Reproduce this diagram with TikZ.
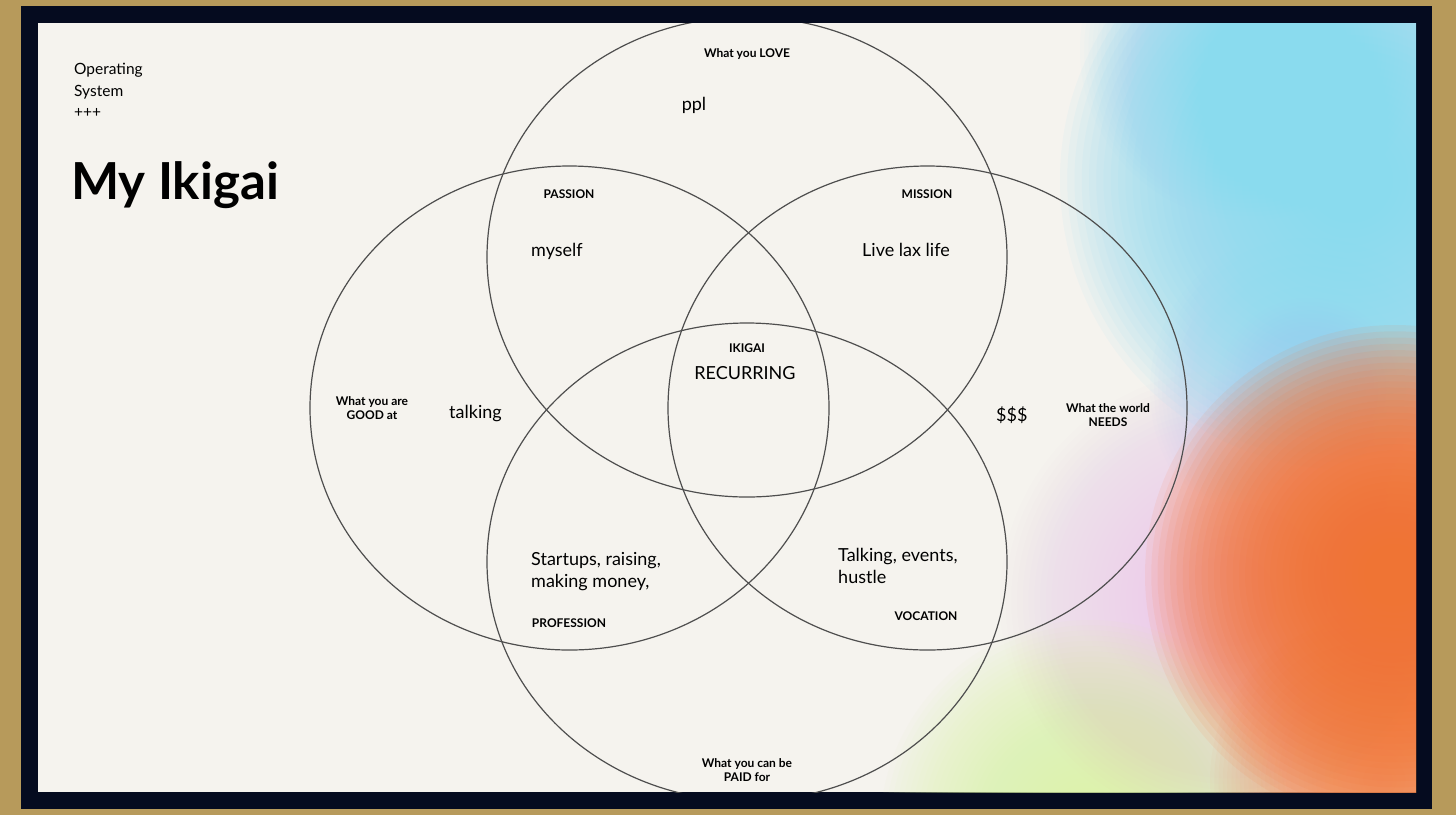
\documentclass[tikz,border=0pt]{standalone}
\usepackage{fontspec}
\setmainfont{Lato}
\definecolor{gold}{HTML}{B79A5B}
\definecolor{navy}{HTML}{050B1F}
\definecolor{cream}{HTML}{F5F3EE}
\definecolor{ringc}{HTML}{4E4E4E}
\definecolor{skyb}{HTML}{8ADBFA}
\definecolor{orng}{HTML}{FA7434}
\definecolor{pnk}{HTML}{EDC8EA}
\definecolor{lav}{HTML}{C9D2F2}
\definecolor{limec}{HTML}{DDF2A8}
\definecolor{peach}{HTML}{F1A06E}
\newcommand{\myblob}[5]{%
  \foreach \k in {1,...,40} {\fill[#1, opacity=#5] (#2,#3) circle ({#4*\k/40});}}
\begin{document}
\begin{tikzpicture}[x=1pt,y=-1pt,
  ringline/.style={draw=ringc, line width=1.2pt},
  lbl/.style={font=\bfseries\fontsize{12}{14}\selectfont, inner sep=0pt, anchor=base},
  txt/.style={font=\fontsize{18}{22}\selectfont, inner sep=0pt, anchor=base},
  txtw/.style={font=\fontsize{18}{22}\selectfont, inner sep=0pt, anchor=base west},
  smalltxt/.style={font=\fontsize{15.5}{20}\selectfont, inner sep=0pt, anchor=base west}]
\useasboundingbox (0,0) rectangle (1456,815);
\fill[gold] (0,0) rectangle (1456,815);
\fill[navy] (21,6) rectangle (1432,809);
\fill[cream] (38,23) rectangle (1416,792);
\begin{scope}
\clip (38,23) rectangle (1416,792);
\myblob{pnk}{1230}{600}{230}{0.045}
\myblob{lav}{1310}{390}{160}{0.05}
\myblob{limec}{1090}{830}{210}{0.05}
\myblob{skyb}{1350}{180}{290}{0.075}
\myblob{skyb}{1250}{50}{170}{0.03}
\myblob{peach}{1380}{780}{170}{0.05}
\myblob{orng}{1395}{575}{250}{0.09}
\draw[ringline] (747,257) ellipse [x radius=260, y radius=240];
\draw[ringline] (569.5,408) ellipse [x radius=259.5, y radius=242];
\draw[ringline] (927.5,408) ellipse [x radius=259.5, y radius=242];
\draw[ringline] (747,562) ellipse [x radius=260, y radius=239];
\end{scope}
\node[smalltxt] (os1) at (74,74) {Operating};
\node[smalltxt] (os2) at (74,96) {System};
\node[smalltxt] (os3) at (74,117) {+++};
\node[font=\bfseries\fontsize{51}{60}\selectfont, inner sep=0pt, anchor=base west] (title) at (71,199) {My Ikigai};
\node[lbl] (love) at (747,57) {What you LOVE};
\node[txt] (ppl) at (694,110) {ppl};
\node[lbl] (passion) at (569,198) {PASSION};
\node[lbl] (mission) at (927,198) {MISSION};
\node[txtw] (myself) at (531,256) {myself};
\node[txtw] (lax) at (862,256) {Live lax life};
\node[lbl] (ikigai) at (747,352) {IKIGAI};
\node[txt] (recur) at (745,379) {RECURRING};
\node[lbl] (good1) at (372,405) {What you are};
\node[lbl] (good2) at (372,419) {GOOD at};
\node[txtw] (talking) at (449,418) {talking};
\node[txtw] (money) at (996,421) {\$\$\$};
\node[lbl] (needs1) at (1108,412) {What the world};
\node[lbl] (needs2) at (1108,426) {NEEDS};
\node[txtw] (prof1) at (531,565) {Startups, raising,};
\node[txtw] (prof2) at (531,587) {making money,};
\node[lbl] (profession) at (569,627) {PROFESSION};
\node[txtw] (voc1) at (838,561) {Talking, events,};
\node[txtw] (voc2) at (838,583) {hustle};
\node[lbl] (vocation) at (926,620) {VOCATION};
\node[lbl] (paid1) at (747,767) {What you can be};
\node[lbl] (paid2) at (747,781) {PAID for};
\end{tikzpicture}
\end{document}
